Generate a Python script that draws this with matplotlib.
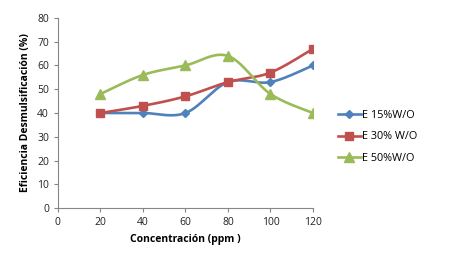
import numpy as np
import matplotlib
matplotlib.use("Agg")
import matplotlib.pyplot as plt

conc = [20, 40, 60, 80, 100, 120]
e15 = [40, 40, 40, 53, 53, 60]
e30 = [40, 43, 47, 53, 57, 67]
e50 = [48, 56, 60, 64, 48, 40]
labels = ["E 15%W/O", "E 30% W/O", "E 50%W/O"]
colors = ["#4F81BD", "#C0504D", "#9BBB59"]
markers = ["D", "s", "^"]
msizes = [4.5, 6, 6.5]

plt.rcParams['font.family'] = ['Open Sans', 'DejaVu Sans']


def smooth(x, y, n=30):
    x = np.asarray(x, float); y = np.asarray(y, float)
    px = np.concatenate([[x[0]], x, [x[-1]]])
    py = np.concatenate([[y[0]], y, [y[-1]]])
    xs, ys = [], []
    t = np.linspace(0, 1, n)
    for i in range(1, len(px) - 2):
        p0, p1, p2, p3 = (np.array([px[j], py[j]]) for j in (i - 1, i, i + 1, i + 2))
        c1 = p1 + (p2 - p0) / 6
        c2 = p2 - (p3 - p1) / 6
        b = ((1 - t) ** 3)[:, None] * p1 + (3 * (1 - t) ** 2 * t)[:, None] * c1 + \
            (3 * (1 - t) * t ** 2)[:, None] * c2 + (t ** 3)[:, None] * p2
        xs.extend(b[:, 0]); ys.extend(b[:, 1])
    return xs, ys


fig = plt.figure(figsize=(4.49, 2.71), dpi=100)
ax = fig.add_axes([0.129, 0.232, 0.568, 0.702])

for ys, lab, c, m, ms in zip([e15, e30, e50], labels, colors, markers, msizes):
    sx, sy = smooth(conc, ys)
    ax.plot(sx, sy, color=c, lw=1.9, zorder=2)
    ax.plot(conc, ys, linestyle='none', marker=m, color=c, ms=ms, zorder=3)
    ax.plot([], [], color=c, lw=1.9, marker=m, ms=ms, label=lab)

ax.set_xlim(0, 120)
ax.set_ylim(0, 80)
ax.set_xticks(range(0, 121, 20))
ax.set_yticks(range(0, 81, 10))
for s in ['top', 'right']:
    ax.spines[s].set_visible(False)
for s in ['left', 'bottom']:
    ax.spines[s].set_color('#868686')
    ax.spines[s].set_linewidth(0.8)
ax.tick_params(axis='both', colors='#868686', labelcolor='#222222', labelsize=7.5,
               length=3, width=0.8, direction='out')
ax.set_xlabel("Concentración (ppm )", fontsize=7.5, fontweight='bold', labelpad=4)
ax.set_ylabel("Eficiencia Desmulsificación (%)", fontsize=7.5, fontweight='bold', labelpad=4)

leg = fig.legend(loc='center left', bbox_to_anchor=(0.73, 0.495), frameon=False,
                 fontsize=7.8, handlelength=2.2, handletextpad=0.1, labelspacing=1.0)

fig.savefig("out.png", dpi=100)
